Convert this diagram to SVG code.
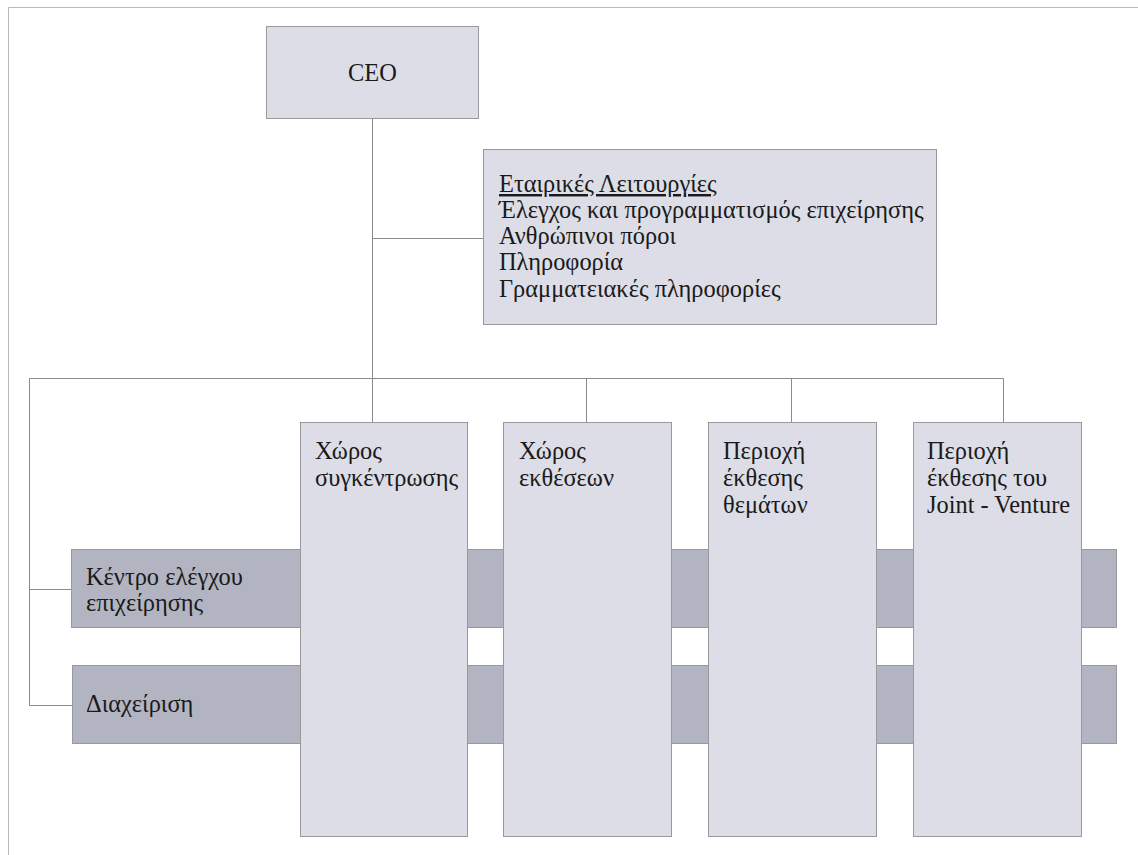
<svg xmlns="http://www.w3.org/2000/svg" width="1138" height="855" viewBox="0 0 1138 855">
<style>
.lt{fill:#dcdde6;stroke:#9a9a9e;stroke-width:1}
.dk{fill:#b2b5c1;stroke:#9a9a9e;stroke-width:1}
.c{fill:none;stroke:#8a8a8a;stroke-width:1}
.t{font-family:'Liberation Serif','Times New Roman',serif;font-size:24.4px;fill:#1a1a1a}
</style>
<rect x="0" y="0" width="1138" height="855" fill="#ffffff"/>
<path d="M8.5,855 V7.5 H1138" fill="none" stroke="#b8b8b8" stroke-width="1"/>
<g id="connectors">
<path class="c" d="M372.5,118 V423"/>
<path class="c" d="M372.5,238.5 H483"/>
<path class="c" d="M29.5,378.5 H1003.5"/>
<path class="c" d="M586.5,378.5 V423"/>
<path class="c" d="M791.5,378.5 V423"/>
<path class="c" d="M1003.5,378.5 V423"/>
<path class="c" d="M29.5,378.5 V705.5 H72"/>
<path class="c" d="M29.5,589.5 H72"/>
</g>
<g id="ceo">
<rect class="lt" x="266.5" y="26.5" width="212" height="92"/>
<text class="t" x="372.5" y="81" text-anchor="middle">CEO</text>
</g>
<g id="corporate">
<rect class="lt" x="483.5" y="149.5" width="453" height="175"/>
<text class="t" x="499" y="192" text-decoration="underline">Εταιρικές Λειτουργίες</text>
<text class="t" x="499" y="218">Έλεγχος και προγραμματισμός επιχείρησης</text>
<text class="t" x="499" y="244">Ανθρώπινοι πόροι</text>
<text class="t" x="499" y="270">Πληροφορία</text>
<text class="t" x="499" y="297">Γραμματειακές πληροφορίες</text>
</g>
<g id="bar-control">
<rect class="dk" x="71.5" y="549.5" width="1045" height="78"/>
<text class="t" x="86" y="585">Κέντρο ελέγχου</text>
<text class="t" x="86" y="611">επιχείρησης</text>
</g>
<g id="bar-management">
<rect class="dk" x="72.5" y="665.5" width="1044" height="78"/>
<text class="t" x="86" y="712">Διαχείριση</text>
</g>
<g id="col1">
<rect class="lt" x="300.5" y="422.5" width="167" height="414"/>
<text class="t" x="315" y="459">Χώρος</text>
<text class="t" x="315" y="486">συγκέντρωσης</text>
</g>
<g id="col2">
<rect class="lt" x="503.5" y="422.5" width="168" height="414"/>
<text class="t" x="519" y="459">Χώρος</text>
<text class="t" x="519" y="486">εκθέσεων</text>
</g>
<g id="col3">
<rect class="lt" x="708.5" y="422.5" width="168" height="414"/>
<text class="t" x="723" y="459">Περιοχή</text>
<text class="t" x="723" y="486">έκθεσης</text>
<text class="t" x="723" y="513">θεμάτων</text>
</g>
<g id="col4">
<rect class="lt" x="913.5" y="422.5" width="168" height="414"/>
<text class="t" x="927" y="459">Περιοχή</text>
<text class="t" x="927" y="486">έκθεσης του</text>
<text class="t" x="927" y="513">Joint - Venture</text>
</g>
</svg>
